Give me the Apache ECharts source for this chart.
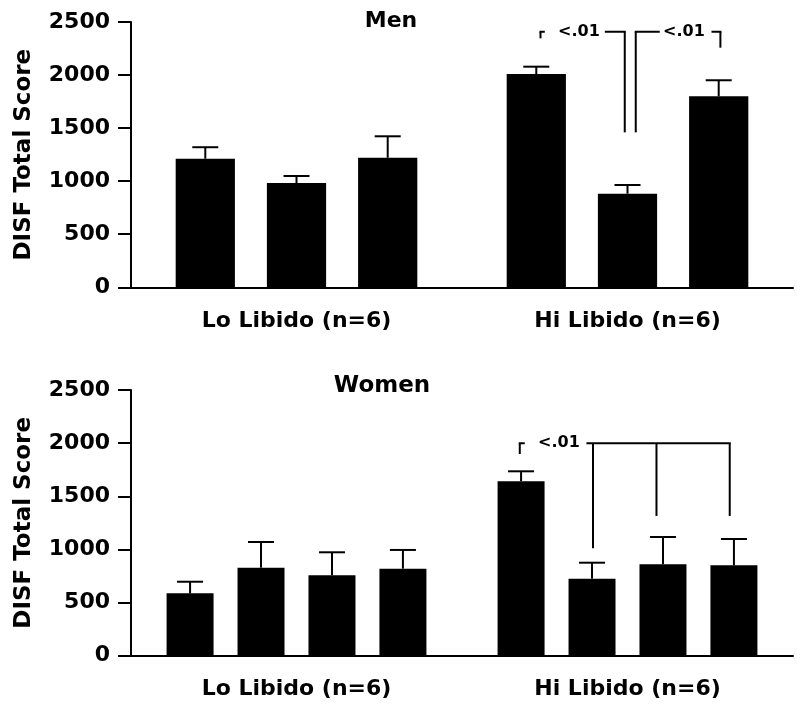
<!DOCTYPE html>
<html><head><meta charset="utf-8">
<script src="https://cdn.jsdelivr.net/npm/echarts@6/dist/echarts.min.js"></script>
<style>html,body{margin:0;padding:0;background:#fff}#c{width:800px;height:712px}</style>
</head><body><div id="c"></div>
<script>
// ---------- data ----------
const categories = ['Lo Libido (n=6)', 'Hi Libido (n=6)'];
const yMin = 0, yMax = 2500, yStep = 500;
const yAxisTitle = 'DISF Total Score';
const panelTitles = ['Men', 'Women'];

// Men: mean per bar (index 0 = Lo Libido, 1 = Hi Libido) and SEM
const menMean1 = [1212, 2010];
const menMean2 = [983, 882];
const menMean3 = [1221, 1800];
const menErr1 = [108, 69];
const menErr2 = [66, 82];
const menErr3 = [202, 151];

// Women
const womenMean1 = [587, 1641];
const womenMean2 = [828, 725];
const womenMean3 = [756, 860];
const womenMean4 = [819, 850];
const womenErr1 = [109, 94];
const womenErr2 = [242, 150];
const womenErr3 = [217, 257];
const womenErr4 = [176, 248];

// significance brackets (category, bar indices, level and drop ends in data units)
const menBrackets = [
  { cat: 1, bars: [0, 1], level: 2408, drops: [2346, 1460], label: '<.01' },
  { cat: 1, bars: [1, 2], level: 2408, drops: [1460, 2258], label: '<.01' }
];
const womenBrackets = [
  { cat: 1, bars: [0, 1, 2, 3], level: 2000, drops: [1898, 1011, 1315, 1315], label: '<.01' }
];

// ---------- layout / style ----------
const FONT = 'DejaVu Sans';
const menLayout = { catGap: 0.27, barGap: 0.54 };
const womenLayout = { catGap: 0.215, barGap: 0.51 };
const menBracketStyle = [
  { dx: [4.2, -2.75], gapDx: 4.3, labelDx: 17.6, padR: 5 },
  { dx: [8.25, 1.7], gapDx: 24, labelDx: 27.3, padR: 6.7 }
];
const womenBracketStyle = [
  { dx: [-1.3, 1, -6.5, -4.2], gapDx: 5, labelDx: 18.3, padR: 6.6 }
];

function barCenterOffset(band, n, i, catGap, barGap) {
  const groupW = band * (1 - catGap);
  const w = groupW / (n + (n - 1) * barGap);
  return -groupW / 2 + i * w * (1 + barGap) + w / 2;
}

function barSeries(g, values, L) {
  return {
    type: 'bar', xAxisIndex: g, yAxisIndex: g, data: values,
    barCategoryGap: (L.catGap * 100) + '%', barGap: (L.barGap * 100) + '%',
    itemStyle: { color: '#000' }, silent: true
  };
}

function errorSeries(g, means, errs, i, n, L) {
  return {
    type: 'custom', xAxisIndex: g, yAxisIndex: g, z: 5, silent: true,
    data: categories.map((c, k) => [k, means[k], means[k] + errs[k]]),
    encode: { x: 0, y: [1, 2] },
    renderItem(params, api) {
      const band = api.size([1, 0])[0];
      const p0 = api.coord([api.value(0), api.value(1)]);
      const p1 = api.coord([api.value(0), api.value(2)]);
      const x = p0[0] + barCenterOffset(band, n, i, L.catGap, L.barGap);
      const half = 13;
      return {
        type: 'group', children: [
          { type: 'line', shape: { x1: x, y1: p0[1], x2: x, y2: p1[1] }, style: { stroke: '#000', lineWidth: 2 } },
          { type: 'line', shape: { x1: x - half, y1: p1[1], x2: x + half, y2: p1[1] }, style: { stroke: '#000', lineWidth: 2 } }
        ]
      };
    }
  };
}

function bracketSeries(g, brackets, styles, n, L) {
  return {
    type: 'custom', xAxisIndex: g, yAxisIndex: g, z: 6, silent: true,
    data: brackets.map(b => [b.cat, b.level]),
    encode: { x: 0, y: 1 },
    renderItem(params, api) {
      const b = brackets[params.dataIndex];
      const S = styles[params.dataIndex];
      const band = api.size([1, 0])[0];
      const base = api.coord([b.cat, b.level]);
      const xs = b.bars.map((bi, j) => base[0] + barCenterOffset(band, n, bi, L.catGap, L.barGap) + S.dx[j]);
      const y = base[1];
      const ln = { stroke: '#000', lineWidth: 2 };
      const children = [
        { type: 'line', shape: { x1: xs[0] - 1, y1: y, x2: xs[xs.length - 1] + 1, y2: y }, style: ln }
      ];
      b.drops.forEach((d, j) => {
        const yd = api.coord([b.cat, d])[1];
        children.push({ type: 'line', shape: { x1: xs[j], y1: y, x2: xs[j], y2: yd }, style: ln });
      });
      children.push({
        type: 'text', x: xs[0] + S.gapDx, y: y,
        style: {
          text: b.label, fill: '#000', fontFamily: FONT, fontWeight: 'bold', fontSize: 16,
          align: 'left', verticalAlign: 'middle', backgroundColor: '#fff',
          padding: [3, S.padR, 3, S.labelDx - S.gapDx]
        }
      });
      return { type: 'group', children };
    }
  };
}

function xAxisCfg(g) {
  return {
    type: 'category', gridIndex: g, data: categories,
    axisLine: { lineStyle: { color: '#000', width: 2 } },
    axisTick: { alignWithLabel: true, length: 8, lineStyle: { color: '#000', width: 2 } },
    axisLabel: { color: '#000', fontFamily: FONT, fontWeight: 'bold', fontSize: 22, margin: 23 },
    splitLine: { show: false }
  };
}
function yAxisCfg(g) {
  return {
    type: 'value', gridIndex: g, min: yMin, max: yMax, interval: yStep,
    name: yAxisTitle, nameLocation: 'middle', nameRotate: 90, nameGap: 95,
    nameTextStyle: { color: '#000', fontFamily: FONT, fontWeight: 'bold', fontSize: 23 },
    axisLine: { show: true, lineStyle: { color: '#000', width: 2 } },
    axisTick: { show: true, length: 13, lineStyle: { color: '#000', width: 2 } },
    axisLabel: { color: '#000', fontFamily: FONT, fontWeight: 'bold', fontSize: 22, margin: 21,
                 formatter: v => String(v) },
    splitLine: { show: false }
  };
}

const menMeans = [menMean1, menMean2, menMean3];
const menErrs = [menErr1, menErr2, menErr3];
const womenMeans = [womenMean1, womenMean2, womenMean3, womenMean4];
const womenErrs = [womenErr1, womenErr2, womenErr3, womenErr4];

const series = [];
menMeans.forEach(m => series.push(barSeries(0, m, menLayout)));
womenMeans.forEach(m => series.push(barSeries(1, m, womenLayout)));
menMeans.forEach((m, i) => series.push(errorSeries(0, m, menErrs[i], i, menMeans.length, menLayout)));
womenMeans.forEach((m, i) => series.push(errorSeries(1, m, womenErrs[i], i, womenMeans.length, womenLayout)));
series.push(bracketSeries(0, menBrackets, menBracketStyle, menMeans.length, menLayout));
series.push(bracketSeries(1, womenBrackets, womenBracketStyle, womenMeans.length, womenLayout));

const chart = echarts.init(document.getElementById('c'), null, { renderer: 'canvas' });
chart.setOption({
  animation: false,
  backgroundColor: '#fff',
  grid: [
    { left: 131, right: 7, top: 22, height: 265.3 },
    { left: 131, right: 7, top: 390, height: 265.7 }
  ],
  xAxis: [xAxisCfg(0), xAxisCfg(1)],
  yAxis: [yAxisCfg(0), yAxisCfg(1)],
  graphic: [
    { type: 'text', x: 391, y: 21, style: { text: panelTitles[0], align: 'center', verticalAlign: 'middle', fill: '#000', fontFamily: FONT, fontWeight: 'bold', fontSize: 22 } },
    { type: 'text', x: 382, y: 386.5, style: { text: panelTitles[1], align: 'center', verticalAlign: 'middle', fill: '#000', fontFamily: FONT, fontWeight: 'bold', fontSize: 23 } }
  ],
  series
});
</script>
</body></html>
